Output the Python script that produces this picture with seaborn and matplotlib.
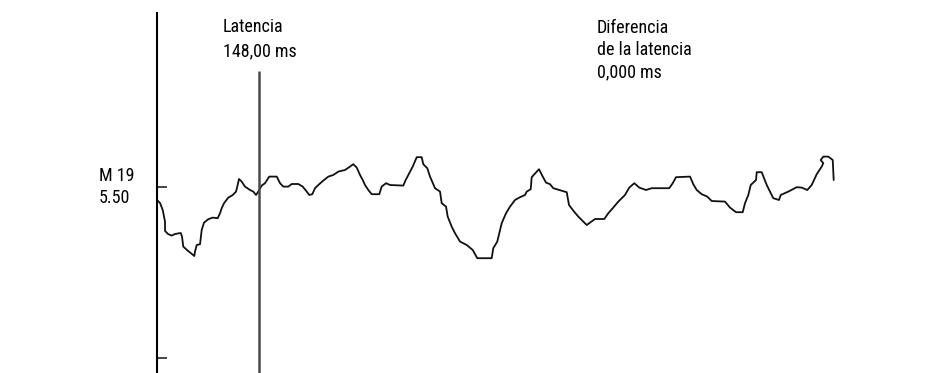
import numpy as np
import pandas as pd
import matplotlib
matplotlib.use("Agg")
import matplotlib.pyplot as plt
from matplotlib import font_manager
import seaborn as sns

# Waveform: time (ms) and amplitude (µV)
time_ms = [0, 4.4, 8.3, 11.6, 11.7, 16.0, 21.3, 26.1, 34.4, 36.3, 38.1, 43.5, 48.9, 54.1, 55.1,
           57.6, 62.4, 64.8, 68.2, 74.4, 80.8, 88.0, 91.4, 93.8, 97.2, 103.4, 109.8, 114.6,
           116.4, 118.9, 122.8, 127.6, 134.9, 139.6, 143.6, 146.9, 151.8, 156.6, 162.8, 173.6,
           178.4, 183.1, 190.4, 195.3, 204.9, 211.3, 217.1, 220.8, 225.2, 229.1, 233.9, 241.1,
           248.4, 255.6, 262.9, 272.6, 279.9, 284.6, 289.6, 294.4, 298.3, 301.6, 306.4, 311.3,
           322.3, 325.8, 332.1, 337.9, 357.1, 360.6, 365.8, 370.8, 376.6, 383.8, 386.1, 391.9,
           395.9, 403.1, 410.4, 412.8, 419.1, 421.5, 427.3, 432.1, 439.4, 449.1, 457.8, 464.4,
           485.3, 487.6, 493.4, 499.8, 506.1, 511.9, 519.1, 526.4, 533.6, 536.1, 541.9, 543.3,
           553.9, 559.3, 564.1, 569.9, 574.6, 584.4, 594.1, 597.4, 604.7, 610.9, 615.8, 623.1,
           635.1, 648.6, 654.4, 661.6, 668.9, 678.6, 684.8, 692.1, 699.3, 709.1, 717.3, 742.8,
           747.8, 752.6, 772.9, 777.6, 782.6, 789.8, 797.9, 804.3, 823.6, 830.9, 839.6, 849.3,
           852.6, 857.4, 860.9, 868.6, 869.6, 876.8, 884.1, 893.6, 901.9, 904.4, 915.4, 927.6,
           934.8, 942.9, 949.3, 956.6, 963.8, 966.1, 962.4, 966.2, 973.4, 979.8, 981.2]
amp_uv = [4.85, 4.70, 4.35, 3.77, 3.30, 3.15, 3.07, 3.15, 3.20, 3.02, 2.52, 2.35, 2.20, 2.05, 2.27,
          2.60, 2.64, 3.35, 3.72, 3.89, 3.97, 3.94, 4.19, 4.44, 4.69, 4.97, 5.10, 5.27,
          5.52, 5.90, 5.77, 5.52, 5.35, 5.27, 5.10, 5.27, 5.57, 5.69, 6.02, 6.02,
          5.69, 5.52, 5.52, 5.65, 5.65, 5.52, 5.27, 5.10, 5.14, 5.44, 5.60, 5.82,
          6.02, 6.10, 6.27, 6.35, 6.52, 6.64, 6.47, 6.10, 5.85, 5.60, 5.35, 5.14,
          5.14, 5.52, 5.69, 5.60, 5.57, 5.85, 6.19, 6.52, 6.99, 6.99, 6.64, 6.44,
          6.02, 5.44, 5.27, 4.69, 4.52, 4.02, 3.52, 3.19, 2.77, 2.60, 2.35, 1.94,
          1.94, 2.44, 2.77, 3.69, 4.19, 4.52, 4.85, 4.99, 5.10, 5.27, 5.39, 5.99,
          6.39, 6.02, 5.72, 5.64, 5.44, 5.34, 5.24, 4.60, 4.27, 4.02, 3.85, 3.60,
          3.90, 3.90, 4.19, 4.47, 4.77, 5.10, 5.47, 5.69, 5.47, 5.35, 5.44, 5.44,
          5.69, 5.99, 6.02, 5.64, 5.35, 5.14, 5.02, 4.80, 4.77, 4.47, 4.24, 4.24,
          4.69, 5.10, 5.60, 5.85, 6.24, 6.24, 5.60, 4.94, 4.85, 5.10, 5.27, 5.49,
          5.47, 5.35, 5.60, 6.14, 6.52, 6.69, 6.85, 7.02, 7.02, 6.85, 5.85]

cursor_ms = 148.0
cursor_label = "Latencia\n148,00 ms"
diff_label = "Diferencia\nde la latencia\n0,000 ms"
channel_label = "M 19\n5.50"
tick_values = [5.50, -3.05]

sns.set_style("white")

# pick a narrow font if available
names = {f.name for f in font_manager.fontManager.ttflist}
narrow = None
for cand in ["Liberation Sans Narrow", "Roboto Condensed", "Open Sans Condensed",
             "DejaVu Sans Condensed"]:
    if cand in names:
        narrow = cand
        break
if narrow is None:
    narrow = "DejaVu Sans"
plt.rcParams["font.family"] = [narrow, "DejaVu Sans"]
stretch = "condensed"

W, H = 951, 373
fig = plt.figure(figsize=(W / 100, H / 100), dpi=100)
ax = fig.add_axes([157 / W, 0, (W - 157) / W, 360 / H])

df = pd.DataFrame({"t": time_ms, "v": amp_uv})
sns.lineplot(data=df, x="t", y="v", sort=False, estimator=None, color="#111111",
             lw=1.3, ax=ax)

ax.set_xlim(0, (W - 157) * 1.45)
ax.set_ylim(-3.8, 14.2)
ax.vlines(cursor_ms, -3.8, 11.3, color="#4a4a4a", lw=1.8)

for s in ["top", "right", "bottom"]:
    ax.spines[s].set_visible(False)
ax.spines["left"].set_color("black")
ax.spines["left"].set_linewidth(1.5)
ax.set_xticks([])
ax.set_yticks(tick_values)
ax.set_yticklabels([])
ax.tick_params(axis="y", left=True, direction="in", length=7.5, width=1.4,
               color="#444444")
ax.set_xlabel("")
ax.set_ylabel("")

fs = 13
kw = dict(ha="left", va="center", fontsize=fs, color="black", fontstretch=stretch)
fig.text(99 / W, 1 - 187 / H, channel_label, linespacing=1.33, **kw)
fig.text(223 / W, 1 - 39 / H, cursor_label, linespacing=1.45, **kw)
fig.text(597 / W, 1 - 50 / H, diff_label, linespacing=1.3, **kw)

fig.savefig("out.png", dpi=100)
